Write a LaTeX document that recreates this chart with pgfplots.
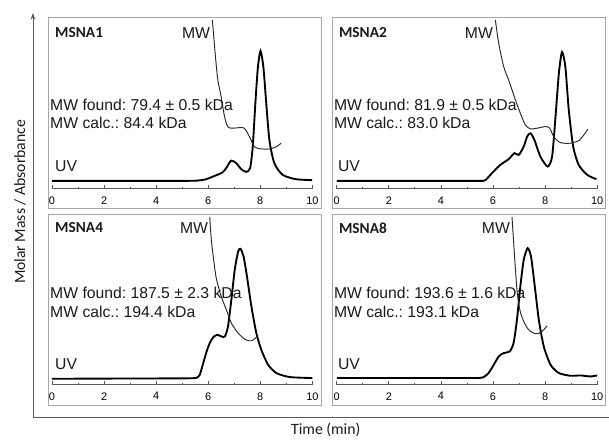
\documentclass[border=0pt]{standalone}
\usepackage{fontspec}
\setmainfont{Liberation Sans}
\newfontfamily\calib{Carlito}
\usepackage{pgfplots}
\pgfplotsset{compat=1.18}
\usetikzlibrary{arrows.meta}
\frenchspacing

\definecolor{framegray}{HTML}{A6A6A6}
\definecolor{axgray}{HTML}{595959}
\definecolor{txt}{HTML}{1A1A1A}

% one chromatogram panel, y in px above the time axis
\pgfplotsset{
  panel/.style={
    scale only axis, width=195.4pt, height=129pt,
    anchor=south west, clip=false,
    xmin=0, xmax=10, ymin=0, ymax=172,
    axis x line=bottom, axis y line=none,
    x axis line style={-, draw=axgray, line width=0.6pt},
    xtick={0,2,...,10}, minor x tick num=1,
    tick align=inside, major tick length=3pt, minor tick length=1.6pt,
    tick style={draw=axgray, line width=0.6pt},
    xticklabel style={font=\fontsize{8.2}{9}\selectfont, text=black, yshift=-2.2pt},
    /pgf/number format/assume math mode=true,
  },
  uv/.style={black, line width=1.4pt, smooth, tension=0.4},
  mw/.style={black!85, line width=0.7pt, smooth, tension=0.45},
}

\begin{document}
\begin{tikzpicture}[x=0.75pt, y=0.75pt]
\path (0,0) rectangle (609,439);

% outer axes
\draw[axgray, line width=0.6pt, -{Stealth[length=5pt,width=3.5pt]}] (609,21) -- (33,21) -- (33,426);
\node[font=\calib\fontsize{11.8}{13}\selectfont, text=txt] at (326,9) {Time (min)};
\node[font=\calib\fontsize{11.8}{13}\selectfont, text=txt, rotate=90] at (20,237) {Molar Mass / Absorbance};

% panel frames
\draw[framegray, line width=0.6pt] (48,230) rectangle (322,422);
\draw[framegray, line width=0.6pt] (333,230) rectangle (606,422);
\draw[framegray, line width=0.6pt] (48,33) rectangle (322,224);
\draw[framegray, line width=0.6pt] (333,33) rectangle (606,224);

% MSNA1
\begin{axis}[panel, at={(39pt,187.5pt)}]
\addplot[uv] coordinates {
(0,8) (2.5,8) (5.0,8) (5.6,8.3) (5.9,9.5) (6.18,12.3) (6.54,16.3) (6.69,20.7) (6.88,28.3) (7.08,25.7)
(7.27,19.7) (7.46,17) (7.61,20.7) (7.71,42) (7.82,89) (7.91,122) (8.01,138)
(8.12,122) (8.22,89) (8.35,49) (8.54,25.7) (8.86,14) (9.37,9.7) (9.99,8.7)};
\addplot[mw] coordinates {
(6.16,169) (6.28,132) (6.37,109) (6.5,92) (6.63,72) (6.76,62) (6.95,60.7)
(7.2,61.3) (7.39,60.7) (7.59,52) (7.78,42) (8.03,40) (8.35,40) (8.61,42) (8.8,45.7)};
\end{axis}

% MSNA2
\begin{axis}[panel, at={(252.75pt,187.5pt)}]
\addplot[uv] coordinates {
(0,8) (2.5,8) (5.0,8) (5.5,8) (5.7,8.6) (5.96,15.7) (6.28,24) (6.6,29.7) (6.82,35.7) (6.99,34) (7.18,42.3)
(7.31,52.3) (7.44,55.7) (7.59,49) (7.82,32.3) (8.1,22.3) (8.27,32.3) (8.4,72)
(8.53,115.7) (8.65,137) (8.78,122) (8.91,79) (9.08,42.3) (9.29,24) (9.62,14) (9.97,9.7)};
\addplot[mw] coordinates {
(6.09,169) (6.22,145.7) (6.41,122.3) (6.6,109) (6.86,89) (7.05,75.7) (7.24,64)
(7.44,60) (7.69,60.7) (8.01,62.3) (8.18,60.7) (8.33,52.3) (8.59,46.3) (8.97,45.7)
(9.29,48.3) (9.49,54) (9.64,59.7)};
\end{axis}

% MSNA4
\begin{axis}[panel, at={(39pt,40.5pt)}]
\addplot[uv] coordinates {
(0,6) (2.5,6.2) (5.0,6.4) (5.45,6.6) (5.6,7.5) (5.68,10) (5.81,21.7) (5.94,33.3) (6.07,42.3) (6.2,47.7) (6.35,50)
(6.51,48.3) (6.64,48.3) (6.76,58.3) (6.89,85) (7.02,115) (7.15,133.3) (7.24,136)
(7.36,128.3) (7.49,108.3) (7.66,78.3) (7.85,51.7) (8.04,35) (8.3,20) (8.62,11.7)
(9.13,7.7) (10,6.7)};
\addplot[mw] coordinates {
(6.06,168) (6.12,145) (6.21,125) (6.31,106.7) (6.5,88.3) (6.7,75) (6.89,61.7)
(7.15,51.7) (7.44,45) (7.66,44) (7.82,46.7) (7.91,50)};
\end{axis}

% MSNA8
\begin{axis}[panel, at={(252.75pt,40.5pt)}]
\addplot[uv] coordinates {
(0,6.7) (2.5,6.7) (5.0,6.7) (5.45,6.8) (5.64,7.6) (5.83,11.7) (6.03,20) (6.22,28.3) (6.41,31.7) (6.64,33.3)
(6.79,41.7) (6.92,65) (7.05,98.3) (7.18,125) (7.33,136.7) (7.46,128.3) (7.59,101.7)
(7.76,65) (7.95,38.3) (8.21,20) (8.53,11.7) (8.97,9) (9.36,9.3) (9.74,8.3) (10,9.3)};
\addplot[mw] coordinates {
(6.73,168) (6.82,131.7) (6.92,95) (7.03,75) (7.18,63.3) (7.37,55) (7.63,51)
(7.82,52.3) (7.95,55) (8.08,59)};
\end{axis}

% panel texts
\tikzset{ttl/.style={anchor=west, inner sep=0pt, font=\calib\bfseries\fontsize{11.5}{13}\selectfont, text=txt},
         lbl/.style={anchor=west, inner sep=0pt, font=\fontsize{11.8}{13}\selectfont, text=txt}}
\node[ttl] at (55,406) {MSNA1};
\node[lbl] at (182,406) {MW};
\node[lbl] at (50,334) {MW found: 79.4 ± 0.5 kDa};
\node[lbl] at (50,316) {MW calc.: 84.4 kDa};
\node[lbl] at (55,273) {UV};

\node[ttl] at (339,406) {MSNA2};
\node[lbl] at (465,406) {MW};
\node[lbl] at (334,334) {MW found: 81.9 ± 0.5 kDa};
\node[lbl] at (334,316) {MW calc.: 83.0 kDa};
\node[lbl] at (338,273) {UV};

\node[ttl] at (55,211) {MSNA4};
\node[lbl] at (180,211) {MW};
\node[lbl] at (50,146) {MW found: 187.5 ± 2.3 kDa};
\node[lbl] at (50,127) {MW calc.: 194.4 kDa};
\node[lbl] at (55,75) {UV};

\node[ttl] at (339,211) {MSNA8};
\node[lbl] at (482,211) {MW};
\node[lbl] at (334,146) {MW found: 193.6 ± 1.6 kDa};
\node[lbl] at (334,127) {MW calc.: 193.1 kDa};
\node[lbl] at (338,75) {UV};
\end{tikzpicture}
\end{document}
